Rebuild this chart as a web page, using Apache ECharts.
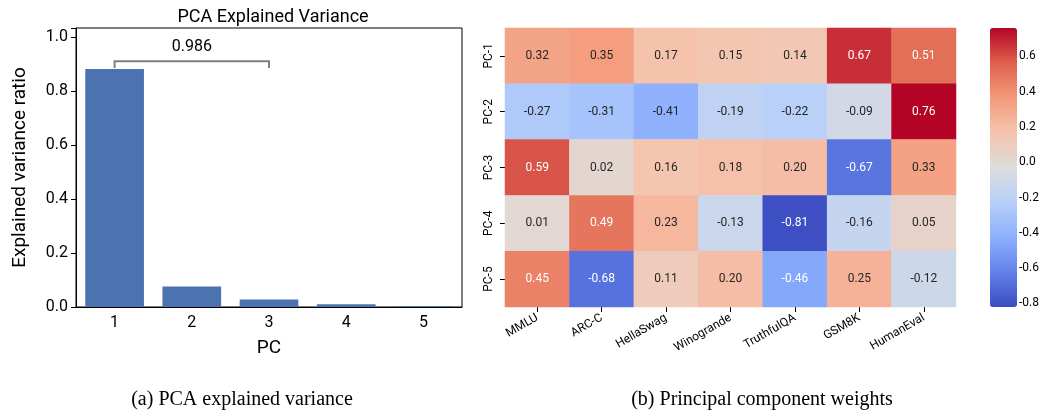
<!DOCTYPE html>
<html><head><meta charset="utf-8">
<script src="https://cdn.jsdelivr.net/npm/echarts@6/dist/echarts.min.js"></script>
<style>html,body{margin:0;background:#fff}#c{width:1042px;height:410px}</style>
</head><body><div id="c"></div>
<script>
var pcs = ['1', '2', '3', '4', '5'];
var ratios = [0.881, 0.076, 0.028, 0.010, 0.003];
var cumLabel = '0.986';
var benchmarks = ['MMLU', 'ARC-C', 'HellaSwag', 'Winogrande', 'TruthfulQA', 'GSM8K', 'HumanEval'];
var rows = ['PC-1', 'PC-2', 'PC-3', 'PC-4', 'PC-5'];
var weights = [
    [0.32, 0.35, 0.17, 0.15, 0.14, 0.67, 0.51],
    [-0.27, -0.31, -0.41, -0.19, -0.22, -0.09, 0.76],
    [0.59, 0.02, 0.16, 0.18, 0.20, -0.67, 0.33],
    [0.01, 0.49, 0.23, -0.13, -0.81, -0.16, 0.05],
    [0.45, -0.68, 0.11, 0.20, -0.46, 0.25, -0.12]
];
var cbTicks = [-0.8, -0.6, -0.4, -0.2, 0.0, 0.2, 0.4, 0.6];
var vmin = -0.82, vmax = 0.76;
var coolwarm = ['#3b4cc0', '#6282ea', '#8db0fe', '#b8d0f9', '#dddcdc', '#f5c4ad', '#f49a7b', '#de604d', '#b40426'];

var heat = [];
weights.forEach(function(r, i) {
    r.forEach(function(v, j) {
        heat.push({ value: [j, i, v], label: { color: Math.abs(v) > 0.44 ? '#fff' : '#262626' } });
    });
});

var font = 'Roboto';
var chart = echarts.init(document.getElementById('c'));
chart.setOption({
    animation: false,
    textStyle: { fontFamily: font },
    title: [
        { text: 'PCA Explained Variance', left: 268, top: 3, textAlign: 'center',
          textStyle: { fontSize: 18, fontWeight: 'normal', color: '#000', fontFamily: font } },
        { text: '(a) PCA explained variance', left: 237, top: 385, textAlign: 'center',
          textStyle: { fontSize: 20, fontWeight: 'normal', color: '#000', fontFamily: 'Liberation Serif' } },
        { text: '(b) Principal component weights', left: 757, top: 385, textAlign: 'center',
          textStyle: { fontSize: 20, fontWeight: 'normal', color: '#000', fontFamily: 'Liberation Serif' } }
    ],
    grid: [
        { left: 76, top: 28, width: 386, height: 279, show: true, borderColor: '#000', borderWidth: 1 },
        { left: 505, top: 28, width: 451, height: 279 },
        { left: 990, top: 28, width: 27, height: 279 }
    ],
    xAxis: [
        { type: 'category', data: pcs, gridIndex: 0, name: 'PC', nameLocation: 'middle', nameGap: 32,
          nameTextStyle: { fontSize: 19, color: '#000' },
          axisLine: { lineStyle: { color: '#000' } }, axisTick: { alignWithLabel: true, lineStyle: { color: '#000' } },
          axisLabel: { fontSize: 16, color: '#000' } },
        { type: 'category', data: benchmarks, gridIndex: 1,
          axisLine: { show: false }, axisTick: { show: true, alignWithLabel: true, lineStyle: { color: '#000' } },
          axisLabel: { fontSize: 12, color: '#000', rotate: 30, interval: 0, margin: 10 } },
        { type: 'value', gridIndex: 2, show: false }
    ],
    yAxis: [
        { type: 'value', gridIndex: 0, min: 0, max: 1.033, interval: 0.2, name: 'Explained variance ratio',
          nameLocation: 'middle', nameGap: 46, nameTextStyle: { fontSize: 19, color: '#000' },
          axisLine: { show: true, lineStyle: { color: '#000' } }, axisTick: { show: true, lineStyle: { color: '#000' } },
          axisLabel: { fontSize: 16, color: '#000', formatter: function(v) { return v > 1.01 ? '' : v.toFixed(1); } },
          splitLine: { show: false } },
        { type: 'category', data: rows, gridIndex: 1, inverse: true,
          axisLine: { show: false }, axisTick: { show: true, alignWithLabel: true, lineStyle: { color: '#000' } },
          axisLabel: { fontSize: 12, color: '#000', rotate: 90, margin: 10 } },
        { type: 'value', gridIndex: 2, position: 'right', min: vmin, max: vmax,
          axisLine: { show: false }, splitLine: { show: false },
          axisTick: { show: true, customValues: cbTicks, lineStyle: { color: '#000' } },
          axisLabel: { fontSize: 12, color: '#000', customValues: cbTicks, formatter: function(v) { return v.toFixed(1); } } }
    ],
    visualMap: {
        type: 'continuous', min: vmin, max: vmax, seriesIndex: 2, calculable: false, padding: 0,
        inRange: { color: coolwarm }, left: 990, top: 28, itemWidth: 27, itemHeight: 279, text: null, showLabel: false
    },
    series: [
        { type: 'bar', data: ratios, xAxisIndex: 0, yAxisIndex: 0, barCategoryGap: '24%',
          itemStyle: { color: '#4c72b0' } },
        { type: 'custom', xAxisIndex: 0, yAxisIndex: 0, data: [[0, 2, 0.91]], silent: true,
          renderItem: function(params, api) {
              var a = api.coord([api.value(0), api.value(2)]);
              var b = api.coord([api.value(1), api.value(2)]);
              var d = api.coord([api.value(0), api.value(2) - 0.025]);
              var e = api.coord([api.value(1), api.value(2) - 0.025]);
              var st = { stroke: '#808080', lineWidth: 2, fill: null };
              return { type: 'group', children: [
                  { type: 'polyline', shape: { points: [d, a, b, e] }, style: st },
                  { type: 'text', style: { text: cumLabel, x: (a[0] + b[0]) / 2, y: a[1] - 6,
                      align: 'center', verticalAlign: 'bottom', fontSize: 16, fontFamily: font, fill: '#000' } }
              ] };
          } },
        { type: 'heatmap', xAxisIndex: 1, yAxisIndex: 1, data: heat,
          label: { show: true, fontSize: 12, fontFamily: font,
              formatter: function(p) { return p.value[2].toFixed(2); } } }
    ]
});
</script></body></html>
